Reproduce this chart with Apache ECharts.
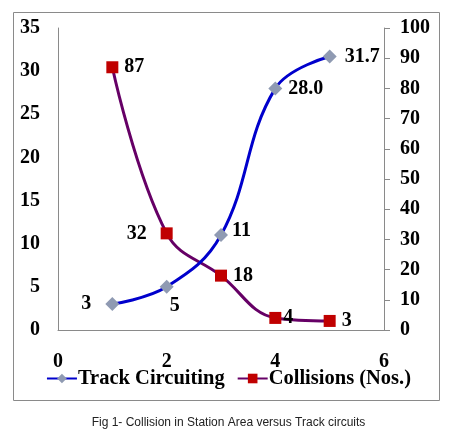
<!DOCTYPE html>
<html>
<head>
<meta charset="utf-8">
<script src="https://cdn.jsdelivr.net/npm/echarts@6/dist/echarts.min.js"></script>
<style>
html,body{margin:0;padding:0;background:#fff;}
#c{width:457px;height:444px;}
</style>
</head>
<body>
<div id="c"></div>
<script>
var xValues = [1, 2, 3, 4, 5];
var trackCircuiting = [3, 5, 11, 28.0, 31.7];
var trackLabels = ['3', '5', '11', '28.0', '31.7'];
var collisions = [87, 32, 18, 4, 3];
var collisionLabels = ['87', '32', '18', '4', '3'];
var leftTicks = [0, 35, 5];
var rightTicks = [0, 100, 10];
var xTicks = [0, 6, 2];
var seriesNames = ['Track Circuiting', 'Collisions (Nos.)'];
var caption = 'Fig 1- Collision in Station Area versus Track circuits';

var serif = 'Liberation Serif';
var lblBase = {show: true, color: '#000', fontFamily: serif, fontWeight: 'bold', fontSize: 20};

var trackPos = [
  {position: 'left', distance: 14},
  {position: 'bottom', distance: 2, offset: [8, 0]},
  {position: 'right', distance: 4, offset: [0, -4]},
  {position: 'right', distance: 6},
  {position: 'right', distance: 8}
];
var collPos = [
  {position: 'right', distance: 6},
  {position: 'left', distance: 14},
  {position: 'right', distance: 6},
  {position: 'right', distance: 2},
  {position: 'right', distance: 6}
];

var trackData = xValues.map(function (x, i) {
  return {value: [x, trackCircuiting[i]], label: Object.assign({}, lblBase, trackPos[i], {formatter: trackLabels[i]})};
});
var collData = xValues.map(function (x, i) {
  return {value: [x, collisions[i]], label: Object.assign({}, lblBase, collPos[i], {formatter: collisionLabels[i]})};
});

var chart = echarts.init(document.getElementById('c'), null, {renderer: 'canvas'});
chart.setOption({
  animation: false,
  backgroundColor: '#fff',
  graphic: [
    {type: 'rect', shape: {x: 13.5, y: 12.5, width: 426, height: 388}, style: {fill: 'none', stroke: '#8a8a8a', lineWidth: 1}, z: -1},
    {type: 'text', left: 'center', top: 417, style: {text: caption, fontFamily: 'Liberation Sans', fontSize: 12, fill: '#222'}}
  ],
  grid: {left: 58, right: 73, top: 28, bottom: 114},
  legend: {
    bottom: 50,
    left: 'center',
    itemGap: 12,
    itemWidth: 30,
    itemHeight: 12,
    textStyle: {fontFamily: serif, fontWeight: 'bold', fontSize: 20.5, color: '#000', padding: [0, 0, 0, -4]},
    data: seriesNames
  },
  xAxis: {
    type: 'value', min: xTicks[0], max: xTicks[1], interval: xTicks[2],
    axisLine: {show: true, lineStyle: {color: '#8a8a8a', width: 1}},
    axisTick: {show: false},
    splitLine: {show: false},
    axisLabel: {margin: 22, color: '#000', fontFamily: serif, fontWeight: 'bold', fontSize: 20}
  },
  yAxis: [
    {
      type: 'value', min: leftTicks[0], max: leftTicks[1], interval: leftTicks[2], position: 'left',
      axisLine: {show: true, lineStyle: {color: '#8a8a8a', width: 1}},
      axisTick: {show: false},
      splitLine: {show: false},
      axisLabel: {margin: 18, color: '#000', fontFamily: serif, fontWeight: 'bold', fontSize: 20}
    },
    {
      type: 'value', min: rightTicks[0], max: rightTicks[1], interval: rightTicks[2], position: 'right',
      axisLine: {show: true, lineStyle: {color: '#8a8a8a', width: 1}},
      axisTick: {show: true, length: 6, lineStyle: {color: '#8a8a8a'}},
      splitLine: {show: false},
      axisLabel: {margin: 16, color: '#000', fontFamily: serif, fontWeight: 'bold', fontSize: 20}
    }
  ],
  series: [
    {
      name: seriesNames[0], type: 'line', yAxisIndex: 0, smooth: 0.4,
      symbol: 'diamond', symbolSize: 14,
      lineStyle: {color: '#0000cc', width: 3},
      itemStyle: {color: '#8f9ab2'},
      data: trackData, z: 3
    },
    {
      name: seriesNames[1], type: 'line', yAxisIndex: 1, smooth: 0.4,
      symbol: 'rect', symbolSize: 12,
      lineStyle: {color: '#660066', width: 3},
      itemStyle: {color: '#c00000'},
      data: collData, z: 2
    }
  ]
});
</script>
</body>
</html>
